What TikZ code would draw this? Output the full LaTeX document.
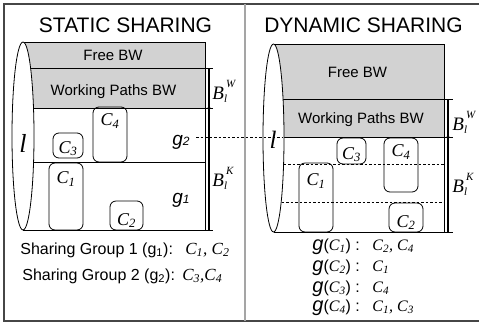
\documentclass[tikz,border=0pt]{standalone}
\usepackage{fontspec}
\setmainfont{Liberation Sans}
\newfontfamily\tms{Liberation Serif}
\newcommand\fs[1]{\fontsize{#1}{#1}\selectfont}
\newcommand\CC[1]{{\tms\itshape C\textsubscript{#1}}}
\newcommand\BB[1]{{\fs{19}\tms\itshape B\rlap{\raisebox{-3pt}{\fs{11}l}}\kern2pt\raisebox{12pt}{\fs{11}#1}}}
\newcommand\glab[1]{{\fs{19}\itshape g}{\fs{12}\itshape #1}}
\newcommand\gC[1]{{\fs{20}\itshape g}{\fs{16}(\CC{#1}) :}}
\definecolor{bwgray}{RGB}{210,210,210}
\definecolor{frame}{RGB}{70,70,70}
\definecolor{divider}{RGB}{165,165,165}
\begin{document}
\begin{tikzpicture}[x=1pt,y=-1pt,line width=0.8pt,
  circ/.style={draw,rounded corners=6pt,inner sep=0pt,line width=0.8pt},
  txt/.style={inner sep=0pt,anchor=base},
  txtw/.style={inner sep=0pt,anchor=base west},
  dsh/.style={dash pattern=on 2.5pt off 2pt,line width=0.7pt},
  brk/.style={line width=1.3pt}]
\useasboundingbox (0,0) rectangle (479,325);
% frame
\draw[frame,line width=1.5pt] (481,4) -- (4,4) -- (4,321) -- (481,321);
\draw[divider,line width=2pt] (245,4) -- (245,321);

% ---------- static cylinder ----------
\fill[bwgray] (23,42) rectangle (205,108);
\draw (23,42) -- (205,42) -- (205,230);
\draw (23,68) -- (205,68);
\draw (23,108) -- (205,108);
\draw (23,162) -- (205,162);
\draw (23,230) -- (213,230);
\draw[brk] (209,68) -- (209,230);
\draw (205,68) -- (213,68);
\draw (205,108) -- (213,108);
\fill (209,108) circle (1.7);
\draw[fill=white] (23,136) ellipse [x radius=11, y radius=94];

% ---------- dynamic cylinder ----------
\fill[bwgray] (273.5,44) rectangle (444,137);
\draw (273.5,44) -- (444,44) -- (444,232);
\draw (273.5,99) -- (444,99);
\draw (273.5,137) -- (444,137);
\draw (273.5,232) -- (453,232);
\draw[brk] (448,99) -- (448,232);
\draw (444,99) -- (453,99);
\draw (444,137) -- (453,137);
\fill (448,137) circle (1.7);
\draw[fill=white] (273.5,138) ellipse [x radius=10.5, y radius=94];
\draw[dsh] (283.5,164) -- (444,164);
\draw[dsh] (281.5,202) -- (444,202);

% titles and band labels
\node[txt] (ttlS) at (125.5,32) {\fs{21}STATIC SHARING};
\node[txt] (ttlD) at (363.5,32) {\fs{21}DYNAMIC SHARING};
\node[txt] (freeS) at (113,60) {\fs{15}Free BW};
\node[txt] (wpS) at (113.5,95) {\fs{15}Working Paths BW};
\node[txt] (freeD) at (357.5,77) {\fs{15}Free BW};
\node[txt] (wpD) at (361,123) {\fs{15}Working Paths BW};

% link labels
\node[txt] (lS) at (23,152) {\fs{26}\tms\itshape l};
\node[txt] (lD) at (273,148) {\fs{25}\tms\itshape l};

% B labels
\node[txtw] (bwS) at (212,99) {\BB{W}};
\node[txtw] (bkS) at (212,186) {\BB{K}};
\node[txtw] (bwD) at (452,130) {\BB{W}};
\node[txtw] (bkD) at (452,192) {\BB{K}};

% group labels
\node[txt] (g2) at (181,145) {\glab{2}};
\node[txt] (g1) at (181,203) {\glab{1}};
\coordinate (gdash) at (196,137.5);
\coordinate (dwp) at (283,137.5);
\draw[dsh] (gdash) -- (dwp);

% static circuits
\node[circ,minimum width=34pt,minimum height=55pt] (sC4) at (110,134.5) {};
\node[circ,minimum width=30pt,minimum height=25pt] (sC3) at (68,145.5) {};
\node[circ,minimum width=34pt,minimum height=67pt] (sC1) at (66,196.5) {};
\node[circ,minimum width=33pt,minimum height=29pt] (sC2) at (126.5,215.5) {};
\node[txt] (sC4l) at ([yshift=-19pt]sC4.north) {\fs{18}\CC{4}};
\node[txt] (sC3l) at ([yshift=5pt]sC3.south) {\fs{18}\CC{3}};
\node[txt] (sC1l) at ([yshift=-21pt]sC1.north) {\fs{18}\CC{1}};
\node[txt] (sC2l) at ([yshift=5pt]sC2.south) {\fs{18}\CC{2}};

% dynamic circuits
\node[circ,minimum width=29pt,minimum height=26pt] (dC3) at (351.5,151) {};
\node[circ,minimum width=34pt,minimum height=54pt] (dC4) at (401,165) {};
\node[circ,minimum width=34pt,minimum height=69pt] (dC1) at (316,197.5) {};
\node[circ,minimum width=34pt,minimum height=29pt] (dC2) at (406,217.5) {};
\node[txt] (dC3l) at ([yshift=5pt]dC3.south) {\fs{18}\CC{3}};
\node[txt] (dC4l) at ([yshift=-19pt]dC4.north) {\fs{18}\CC{4}};
\node[txt] (dC1l) at ([yshift=-23pt]dC1.north) {\fs{18}\CC{1}};
\node[txt] (dC2l) at ([yshift=5pt]dC2.south) {\fs{18}\CC{2}};

% static legend
\node[txtw] (sg1) at (20,254) {\fs{16}Sharing Group 1 (g\textsubscript{1}):};
\node[txtw] (sg1c) at (185,254) {\fs{17}\tms\itshape C\textsubscript{1}, C\textsubscript{2}};
\node[txtw] (sg2) at (22,280) {\fs{16}Sharing Group 2 (g\textsubscript{2}):};
\node[txtw] (sg2c) at (182,280) {\fs{17}\tms\itshape C\textsubscript{3},C\textsubscript{4}};

% dynamic legend
\node[txtw] (dg1) at (312,250) {\gC{1}};
\node[txtw] (dg1c) at (372,250) {\fs{16}\tms\itshape C\textsubscript{2}, C\textsubscript{4}};
\node[txtw] (dg2) at (312,271) {\gC{2}};
\node[txtw] (dg2c) at (372,271) {\fs{16}\tms\itshape C\textsubscript{1}};
\node[txtw] (dg3) at (312,292) {\gC{3}};
\node[txtw] (dg3c) at (372,292) {\fs{16}\tms\itshape C\textsubscript{4}};
\node[txtw] (dg4) at (312,311) {\gC{4}};
\node[txtw] (dg4c) at (372,311) {\fs{16}\tms\itshape C\textsubscript{1}, C\textsubscript{3}};
\end{tikzpicture}
\end{document}
